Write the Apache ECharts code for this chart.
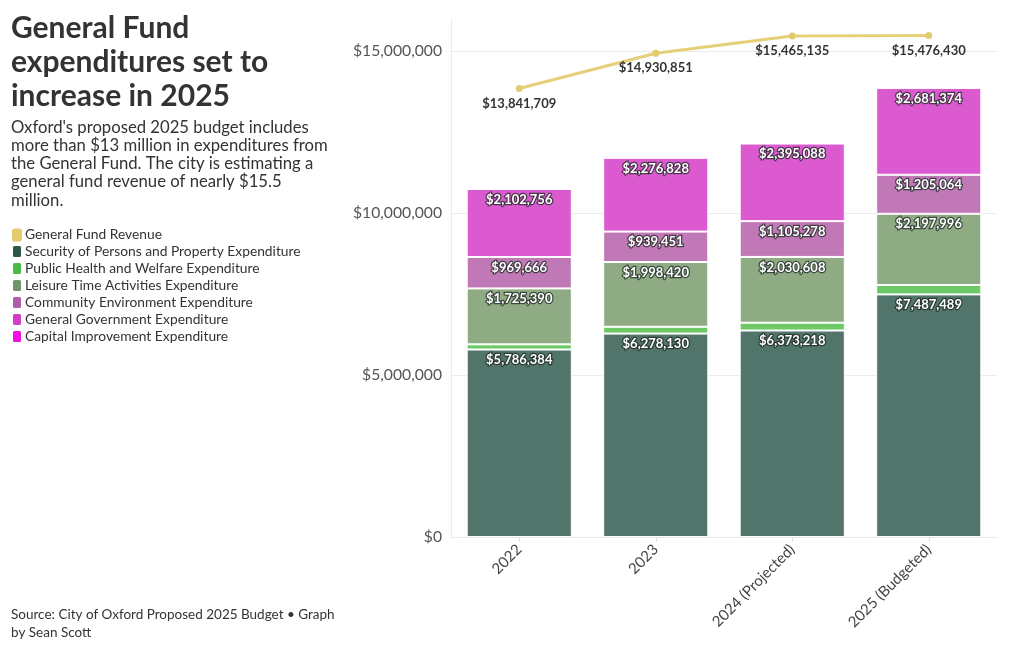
<!DOCTYPE html>
<html>
<head>
<meta charset="utf-8">
<script src="https://cdn.jsdelivr.net/npm/echarts@6/dist/echarts.min.js"></script>
<style>html,body{margin:0;padding:0;background:#fff;}#chart{width:1020px;height:650px;}</style>
</head>
<body>
<div id="chart"></div>
<script>
const categories = ['2022', '2023', '2024 (Projected)', '2025 (Budgeted)'];
const revenue = [13841709, 14930851, 15465135, 15476430];
const security = [5786384, 6278130, 6373218, 7487489];
const publicHealth = [160000, 210000, 240000, 290000];
const leisure = [1725390, 1998420, 2030608, 2197996];
const community = [969666, 939451, 1105278, 1205064];
const generalGov = [2102756, 2276828, 2395088, 2681374];
const capital = [0, 60000, 0, 0];
const yTicks = [0, 5000000, 10000000, 15000000];

const FONT = 'Lato, "Noto Sans", sans-serif';
const fmt = v => '$' + Number(v).toLocaleString('en-US');

const barLabel = {
  show: true, position: 'insideTop', distance: 4,
  color: '#fff', fontFamily: FONT, fontSize: 13, fontWeight: 'bold',
  textBorderColor: 'rgba(30,40,35,0.75)', textBorderWidth: 2.5,
  formatter: p => fmt(p.value)
};
function barSeries(name, data, color, showLabel) {
  return {
    name, type: 'bar', stack: 'exp', data, barCategoryGap: '23%',
    itemStyle: { color, borderColor: '#fff', borderWidth: 1 },
    label: showLabel ? barLabel : { show: false },
    emphasis: { disabled: true }
  };
}

const chart = echarts.init(document.getElementById('chart'));
chart.setOption({
  animation: false,
  backgroundColor: '#fff',
  title: [
    { text: 'General Fund\nexpenditures set to\nincrease in 2025', left: 6, top: 6,
      textStyle: { fontFamily: FONT, fontSize: 30, fontWeight: 'bold', color: '#333', lineHeight: 34 } },
    { text: "Oxford's proposed 2025 budget includes\nmore than $13 million in expenditures from\nthe General Fund. The city is estimating a\ngeneral fund revenue of nearly $15.5\nmillion.", left: 6, top: 113,
      textStyle: { fontFamily: FONT, fontSize: 16.7, fontWeight: 'normal', color: '#333', lineHeight: 18.3 } },
    { text: 'Source: City of Oxford Proposed 2025 Budget \u2022 Graph\nby Sean Scott', left: 6, top: 601,
      textStyle: { fontFamily: FONT, fontSize: 13.5, fontWeight: 'normal', color: '#333', lineHeight: 18 } }
  ],
  legend: {
    orient: 'vertical', left: 6, top: 223, itemGap: 2, itemWidth: 10, itemHeight: 13,
    icon: 'roundRect', selectedMode: false,
    textStyle: { fontFamily: FONT, fontSize: 13.8, lineHeight: 13, color: '#333', padding: [0, 0, 0, -2] },
    data: [
      { name: 'General Fund Revenue', itemStyle: { color: '#e3cc6e' } },
      { name: 'Security of Persons and Property Expenditure', itemStyle: { color: '#2b5748' } },
      { name: 'Public Health and Welfare Expenditure', itemStyle: { color: '#4cbb46' } },
      { name: 'Leisure Time Activities Expenditure', itemStyle: { color: '#6f9766' } },
      { name: 'Community Environment Expenditure', itemStyle: { color: '#b05ea8' } },
      { name: 'General Government Expenditure', itemStyle: { color: '#d43dca' } },
      { name: 'Capital Improvement Expenditure', itemStyle: { color: '#f010e6' } }
    ]
  },
  grid: { left: 451, right: 23, top: 18.6, bottom: 113, containLabel: false },
  xAxis: {
    type: 'category', data: categories,
    axisLine: { show: true, lineStyle: { color: '#e8e8e8' } },
    axisTick: { show: true, alignWithLabel: true, length: 5, lineStyle: { color: '#e0e0e0' } },
    axisLabel: { rotate: 45, fontFamily: FONT, fontSize: 15, color: '#444', margin: 10 }
  },
  yAxis: {
    type: 'value', min: 0, max: 16000000, interval: 5000000,
    axisLine: { show: true, lineStyle: { color: '#ececec' } },
    axisTick: { show: false },
    splitLine: { show: true, showMaxLine: false, lineStyle: { color: '#ececec' } },
    axisLabel: {
      fontFamily: FONT, fontSize: 15.7, color: '#555', margin: 9, showMaxLabel: false,
      formatter: v => yTicks.includes(v) ? fmt(v) : ''
    }
  },
  series: [
    barSeries('Security of Persons and Property Expenditure', security, '#52756b', true),
    barSeries('Public Health and Welfare Expenditure', publicHealth, '#6cc965', false),
    barSeries('Leisure Time Activities Expenditure', leisure, '#8eab84', true),
    barSeries('Community Environment Expenditure', community, '#c079b6', true),
    barSeries('General Government Expenditure', generalGov, '#dc5ad0', true),
    barSeries('Capital Improvement Expenditure', capital, '#f055ea', false),
    {
      name: 'General Fund Revenue', type: 'line', data: revenue, z: 10,
      symbol: 'circle', symbolSize: 7,
      lineStyle: { color: '#e5d079', width: 3 },
      itemStyle: { color: '#e3cc6e' },
      label: { show: true, position: 'bottom', distance: 5, fontFamily: FONT, fontSize: 13, fontWeight: 'bold', color: '#333', formatter: p => fmt(p.value) },
      emphasis: { disabled: true }
    }
  ]
});
</script>
</body>
</html>
